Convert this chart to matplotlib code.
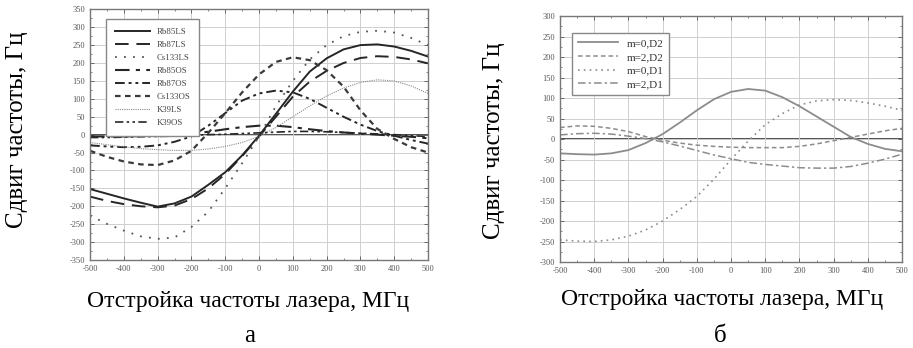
import matplotlib
matplotlib.use("Agg")
from matplotlib import pyplot as plt

plt.rcParams['font.family'] = ['Liberation Serif', 'DejaVu Serif']
plt.rcParams['axes.unicode_minus'] = False

# detuning, MHz
detuning = [-500, -450, -400, -350, -300, -250, -200, -150, -100, -50, 0,
            50, 100, 150, 200, 250, 300, 350, 400, 450, 500]

# panel a: frequency shift, Hz
rb85_ls = [-152, -165, -178, -190, -201, -192, -173, -140, -105, -58, -3,
           58, 120, 176, 213, 238, 250, 252, 246, 234, 218]
rb87_ls = [-173, -185, -194, -200, -203, -198, -180, -150, -110, -60, -5,
           50, 106, 148, 178, 200, 214, 219, 217, 210, 199]
cs133_ls = [-226, -249, -268, -284, -291, -287, -258, -215, -150, -80, -5,
            80, 150, 210, 250, 275, 287, 290, 285, 270, 250]
rb85_os = [-5, -5, -5, -4, -3, -1, 3, 8, 15, 21, 25,
           25, 21, 15, 10, 6, 3, 0, -3, -6, -10]
rb87_os = [-30, -33, -35, -34, -30, -20, -5, 25, 60, 95, 115,
           123, 118, 100, 75, 50, 28, 10, -3, -15, -25]
cs133_os = [-45, -62, -75, -83, -85, -72, -45, 5, 60, 118, 168,
            203, 216, 208, 180, 134, 68, 16, -12, -35, -50]
k39_ls = [-22, -28, -34, -39, -42, -44, -44, -40, -33, -22, -5,
          20, 50, 80, 108, 130, 146, 153, 150, 136, 115]
k39_os = [-8, -8, -7, -6, -5, -4, -2, 0, 1, 3, 5,
          7, 9, 9, 8, 6, 4, 2, 0, -3, -5]

# panel b: frequency shift, Hz
m0_d2 = [-35, -37, -38, -35, -27, -10, 12, 40, 70, 97, 115,
         122, 118, 102, 80, 55, 30, 5, -12, -24, -30]
m2_d2 = [28, 32, 31, 26, 18, 6, -3, -10, -15, -18, -20,
         -21, -21, -21, -18, -12, -4, 4, 12, 20, 26]
m0_d1 = [-246, -249, -250, -246, -237, -222, -200, -172, -140, -98, -50,
         -5, 35, 62, 83, 93, 96, 94, 88, 80, 70]
m2_d1 = [10, 13, 14, 12, 7, 1, -7, -17, -28, -39, -48,
         -57, -62, -66, -70, -71, -71, -67, -59, -49, -37]

x_label = "Отстройка частоты лазера, МГц"
y_label = "Сдвиг частоты, Гц"


def style_axes(ax, ylim):
    ax.set_xlim(-500, 500)
    ax.set_ylim(-ylim, ylim)
    ax.set_xticks(range(-500, 501, 100))
    ax.set_yticks(range(-ylim, ylim + 1, 50))
    ax.set_xticks(range(-500, 501, 50), minor=True)
    ax.set_yticks(range(-ylim, ylim + 1, 25), minor=True)
    ax.grid(True, which='major', color='#cfcfcf', linewidth=0.7)
    ax.tick_params(which='both', direction='in', top=True, right=True,
                   colors='#555555', labelsize=6, labelcolor='#555555')
    ax.tick_params(which='major', length=3, width=0.6)
    ax.tick_params(which='minor', length=1.5, width=0.5)
    for sp in ax.spines.values():
        sp.set_color('#777777')
        sp.set_linewidth(1.0)
    ax.axhline(0, color='#222222', linewidth=1.1, zorder=1)


fig = plt.figure(figsize=(9.13, 3.48), dpi=100)
ax1 = fig.add_axes([0.0986, 0.2529, 0.3702, 0.7204])
ax2 = fig.add_axes([0.6134, 0.2471, 0.3746, 0.7069])

# panel a
style_axes(ax1, 350)
dark = '#262626'
ax1.plot(detuning, rb85_ls, color=dark, lw=1.4, label='Rb85LS')
ax1.plot(detuning, rb87_ls, color=dark, lw=1.4, dashes=(7, 4), label='Rb87LS')
ax1.plot(detuning, cs133_ls, color='#555555', lw=1.3, dashes=(1, 4), label='Cs133LS')
ax1.plot(detuning, rb85_os, color=dark, lw=1.5, dashes=(7, 3, 2, 3), label='Rb85OS')
ax1.plot(detuning, rb87_os, color=dark, lw=1.4, dashes=(5, 2, 1.5, 2, 1.5, 2), label='Rb87OS')
ax1.plot(detuning, cs133_os, color='#3a3a3a', lw=1.6, dashes=(2.5, 2), label='Cs133OS')
ax1.plot(detuning, k39_ls, color='#8a8a8a', lw=0.8, dashes=(1, 1), label='K39LS')
ax1.plot(detuning, k39_os, color=dark, lw=1.2, dashes=(5, 2, 1.5, 2, 1.5, 2), label='K39OS')
leg1 = ax1.legend(loc='upper left', bbox_to_anchor=(0.047, 0.96), borderaxespad=0,
                  fontsize=6.3, handlelength=4.0, labelspacing=0.55, fancybox=False,
                  framealpha=1, edgecolor='#888888', borderpad=1.0)
for t in leg1.get_texts():
    t.set_color('#444444')

# panel b
style_axes(ax2, 300)
grey = '#8c8c8c'
ax2.plot(detuning, m0_d2, color=grey, lw=1.3, label='m=0,D2')
ax2.plot(detuning, m2_d2, color=grey, lw=1.1, dashes=(3, 2), label='m=2,D2')
ax2.plot(detuning, m0_d1, color=grey, lw=1.2, dashes=(1, 2.5), label='m=0,D1')
ax2.plot(detuning, m2_d1, color=grey, lw=1.1, dashes=(5, 2, 1.5, 2), label='m=2,D1')
leg2 = ax2.legend(loc='upper left', bbox_to_anchor=(0.035, 0.931), borderaxespad=0,
                  fontsize=8, handlelength=3.6, labelspacing=0.35, fancybox=False,
                  framealpha=1, edgecolor='#888888', borderpad=0.5)
for t in leg2.get_texts():
    t.set_color('#333333')

# axis titles and panel letters
W, H = 913, 348
fig.text(17 / W, 1 - 130 / H, y_label, rotation=90, ha='center', va='center', fontsize=18)
fig.text(494 / W, 1 - 141 / H, y_label, rotation=90, ha='center', va='center', fontsize=18)
fig.text(248 / W, 1 - 302 / H, x_label, ha='center', va='center', fontsize=17)
fig.text(722 / W, 1 - 300 / H, x_label, ha='center', va='center', fontsize=17)
fig.text(250 / W, 1 - 336 / H, "а", ha='center', va='center', fontsize=18)
fig.text(720 / W, 1 - 336 / H, "б", ha='center', va='center', fontsize=18)

fig.savefig("out.png", dpi=100)
